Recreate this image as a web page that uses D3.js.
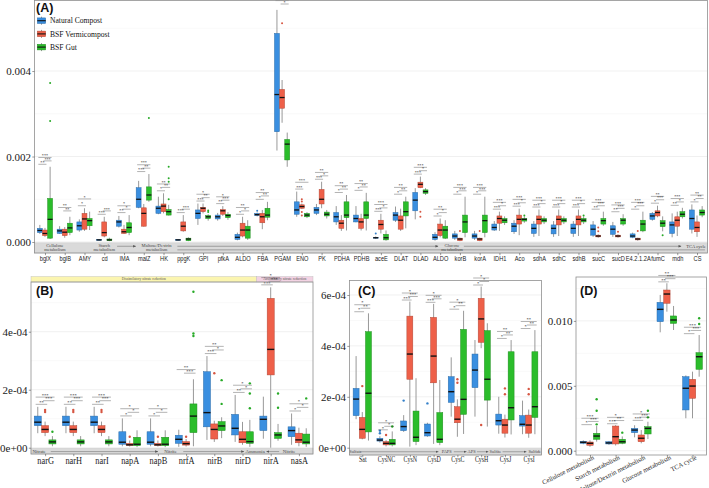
<!DOCTYPE html>
<html><head><meta charset="utf-8">
<script src="https://cdn.jsdelivr.net/npm/d3@7"></script>
<style>body{margin:0;background:#fff}svg{display:block}</style>
</head><body>
<svg id="chart" width="709" height="488"></svg>
<script>
// ---------------- DATA ----------------
const seriesNames = ["Natural Compost", "BSF Vermicompost", "BSF Gut"];
const seriesColors = ["#3A8FE0", "#EE6049", "#2BBD2B"];
// box = [lowWhisker, q1, median, q3, highWhisker, outliers]

// Panel A (values x 1e-3)
const catsA = ["bglX","bglB","AMY","cd","IMA","malZ","HK","ppgK","GPI","pfkA","ALDO","FBA","PGAM","ENO","PK","PDHA","PDHB","aceE","DLAT","DLAD","ALDO","korB","korA","IDH1","Aco","sdhA","sdhC","sdhB","sucC","sucD","E4.2.1.2A","fumC","mdh","CS"];
const A_natural = [
 [0.19,0.22,0.27,0.32,0.40],[0.19,0.20,0.26,0.30,0.37],[0.24,0.28,0.38,0.47,0.53],[0.03,0.04,0.05,0.06,0.07],
 [0.34,0.37,0.47,0.51,0.61],[0.79,0.81,1.00,1.27,1.43],[0.65,0.67,0.79,0.84,1.06],[0.03,0.04,0.05,0.06,0.07],
 [0.40,0.55,0.67,0.75,0.90],[0.50,0.54,0.59,0.63,0.68],[0.04,0.06,0.11,0.18,0.22],[0.60,0.62,0.64,0.67,0.69,[0.73]],
 [2.14,2.58,3.45,4.88,5.43],[0.59,0.65,0.75,0.94,1.18],[0.63,0.67,0.75,0.81,0.89],[0.40,0.47,0.59,0.69,0.84],
 [0.46,0.47,0.55,0.63,0.84],[0.07,0.09,0.10,0.11,0.13,[0.20]],[0.47,0.51,0.63,0.69,0.83],[0.53,0.73,0.98,1.16,1.26],
 [0.03,0.06,0.11,0.18,0.23],[0.05,0.09,0.14,0.19,0.26],[0.05,0.09,0.14,0.19,0.26],[0.26,0.28,0.34,0.42,0.49],
 [0.19,0.24,0.37,0.44,0.51],[0.12,0.20,0.32,0.42,0.49],[0.12,0.19,0.32,0.40,0.49],[0.12,0.20,0.32,0.42,0.49],
 [0.12,0.16,0.30,0.40,0.49],[0.12,0.18,0.30,0.38,0.47],[0.09,0.11,0.14,0.19,0.22],[0.50,0.53,0.61,0.67,0.70],
 [0.11,0.20,0.40,0.47,0.67],[0.20,0.30,0.55,0.75,0.88]
];
const A_vermi = [
 [0.12,0.15,0.20,0.28,0.33],[0.10,0.15,0.23,0.30,0.35],[0.26,0.30,0.54,0.67,0.79],[0.11,0.14,0.22,0.47,0.59],
 [0.19,0.20,0.24,0.30,0.40],[0.36,0.37,0.67,0.80,0.89],[0.67,0.71,0.84,0.89,1.14],[0.24,0.26,0.37,0.47,0.63],
 [0.67,0.71,0.79,0.81,0.90],[0.61,0.65,0.73,0.76,0.84],[0.11,0.14,0.28,0.44,0.59],[0.30,0.45,0.59,0.67,0.75],
 [2.79,3.13,3.38,3.57,3.79,[5.12]],[0.77,0.79,0.83,0.87,0.90,[1.0,0.95,0.70,0.62]],[0.79,0.89,1.00,1.23,1.41],[0.26,0.32,0.44,0.51,0.63],
 [0.27,0.32,0.47,0.55,0.66],[0.20,0.30,0.41,0.51,0.66],[0.26,0.30,0.51,0.61,0.78],[1.26,1.27,1.35,1.40,1.53,[0.71,0.59]],
 [0.11,0.15,0.28,0.42,0.55],[0.02,0.03,0.07,0.09,0.10,[0.26]],[0.02,0.03,0.07,0.09,0.10,[0.26]],[0.26,0.44,0.55,0.61,0.71],
 [0.16,0.42,0.53,0.63,0.78],[0.14,0.42,0.53,0.61,0.76],[0.14,0.40,0.53,0.61,0.76],[0.14,0.40,0.53,0.61,0.76],
 [0.10,0.12,0.14,0.16,0.18,[0.34,0.25]],[0.10,0.12,0.14,0.16,0.18,[0.24]],[0.03,0.05,0.07,0.09,0.10,[0.26]],[0.58,0.61,0.69,0.73,0.85],
 [0.14,0.37,0.51,0.59,0.71],[0.12,0.24,0.34,0.47,0.62]
];
const A_gut = [
 [0.07,0.09,0.53,1.02,1.76,[3.72,2.83]],[0.16,0.22,0.33,0.44,0.59],[0.28,0.38,0.50,0.55,0.71],[0.02,0.03,0.05,0.07,0.10],
 [0.16,0.22,0.34,0.45,0.63],[0.94,0.98,1.10,1.29,1.59,[2.90]],[0.62,0.63,0.71,0.76,0.87,[1.76,1.49,1.41,1.0]],[0.02,0.03,0.07,0.09,0.11],
 [0.50,0.55,0.59,0.62,0.65,[0.70,0.74]],[0.52,0.57,0.62,0.65,0.70],[0.05,0.09,0.28,0.37,0.51],[0.51,0.58,0.63,0.79,0.94],
 [1.76,1.92,2.29,2.40,2.56],[0.56,0.59,0.63,0.67,0.70],[0.55,0.61,0.65,0.70,0.75],[0.27,0.57,0.63,0.94,1.10],
 [0.27,0.55,0.63,0.94,1.15],[0.03,0.05,0.10,0.18,0.27],[0.32,0.61,0.71,0.94,1.06],[1.10,1.14,1.18,1.22,1.26],
 [0.07,0.09,0.28,0.37,0.51],[0.11,0.22,0.47,0.63,1.06],[0.11,0.22,0.50,0.63,1.06],[0.40,0.45,0.51,0.55,0.60],
 [0.45,0.49,0.53,0.55,0.60,[0.62]],[0.42,0.47,0.51,0.55,0.60],[0.42,0.47,0.51,0.55,0.60],[0.42,0.47,0.51,0.55,0.60,[0.62]],
 [0.38,0.42,0.50,0.55,0.71],[0.38,0.42,0.51,0.55,0.65],[0.23,0.26,0.42,0.51,0.71],[0.25,0.36,0.44,0.50,0.60,[0.16]],
 [0.55,0.59,0.65,0.71,0.80],[0.58,0.63,0.69,0.75,0.84]
];
// significance labels per category: [NC vs Vermi, Vermi vs Gut, NC vs Gut]
const A_sig = [
 ["**","***","***"],["","**","**"],["*","","*"],["***","***",""],["**","*","*"],["***","**","***"],["*","**","**"],["***","***",""],
 ["***","**","*"],["**","***","*"],["*","*","**"],["*","**","**"],["","*","***"],["***","","***"],["***","*","**"],["*","**","**"],
 ["*","**","**"],["***","*","***"],["*","**","**"],["***","*","***"],["*","*","**"],["*","***","***"],["*","***","***"],["***","*","***"],
 ["***","*","***"],["***","*","***"],["***","*","***"],["***","*","***"],["**","***","***"],["**","***","***"],["*","***","***"],["*","***","**"],
 ["**","*","***"],["*","**","**"]
];
const A_ticks = [0, 2, 4];
const A_tickLabels = ["0.000", "0.002", "0.004"];
const A_minor = [1, 3, 5];
const A_bandLabels = [["Cellulose\nmetabolism",0.5,"middle"],["Starch\nmetabolism",3.0,"middle"],["Maltose/Dextrin\nmetabolism",5.65,"middle"],["Glucose\nmetabolism",20.6,"middle"],["TCA cycle",33.45,"end"]];
const A_bandArrows = [[3.65,4.6,0,1],[6.7,19.9,0,1],[6.7,33.4,1,0],[21.2,32.2,0,1]];

// Panel B (values x 1e-4)
const catsB = ["narG","narH","narI","napA","napB","nrfA","nirB","nirD","nirA","nasA"];
const B_natural = [
 [0.50,0.76,0.88,1.09,1.41],[0.50,0.76,0.88,1.09,1.41],[0.50,0.76,0.88,1.09,1.41],[0.05,0.12,0.19,0.55,1.01],[0.05,0.12,0.19,0.55,1.01],
 [0.03,0.15,0.29,0.43,0.62],[0.27,0.72,1.21,2.62,3.16],[0.20,0.44,0.67,1.15,1.82],[0.31,0.59,0.98,1.09,1.76],[0.10,0.38,0.59,0.72,1.18]
];
const B_vermi = [
 [0.40,0.52,0.63,0.76,0.90,[1.30,1.23]],[0.40,0.52,0.63,0.76,0.90,[1.30,1.23]],[0.40,0.52,0.63,0.76,0.90,[1.30,1.23]],[0.04,0.08,0.10,0.15,0.25,[0.38]],[0.04,0.08,0.10,0.15,0.25,[0.38]],
 [0.04,0.09,0.14,0.21,0.30,[0.38]],[0.20,0.30,0.63,0.82,0.93,[2.57]],[0.10,0.17,0.29,0.55,0.89],[0.00,2.51,3.39,5.15,5.53],[0.05,0.17,0.27,0.50,0.69]
];
const B_gut = [
 [0.05,0.13,0.20,0.27,0.40,[0.55]],[0.05,0.13,0.20,0.27,0.40],[0.05,0.13,0.20,0.27,0.40],[0.02,0.07,0.12,0.36,0.60],[0.02,0.07,0.12,0.36,0.60],
 [0.05,0.52,1.09,1.51,2.36,[5.38,3.94,3.85]],[0.33,0.59,0.75,0.90,1.05,[2.33,1.51]],[0.03,0.15,0.21,0.55,0.96,[2.22,1.87,1.36]],[0.24,0.32,0.44,0.52,0.82,[1.87,1.38]],[0.03,0.13,0.19,0.47,0.67,[1.70]]
];
const B_sig = [["**","***","***"],["**","***","***"],["**","***","***"],["*","*","*"],["*","*","*"],["","***","**"],["***","*","**"],["**","*","*"],["***","***","*"],["*","*","*"]];
const B_ticks = [0, 2, 4];
const B_tickLabels = ["0e+00", "2e-04", "4e-04"];
const B_minor = [1, 3, 5];
const B_bandLabels = [["Nitrate",-0.45,"start"],["Nitrite",4.45,"middle"],["Ammonia",7.45,"middle"],["Nitrite",8.65,"middle"]];
const B_bandArrows = [[0.2,4.0,0,1],[4.9,7.05,0,1],[8.3,7.85,0,1]];
const B_strips = [["Dissimilatory nitrate reduction",-0.5,7.5,"#FBF5B0"],["Assimilatory nitrate reduction",7.5,9.5,"#F3D3E3"]];

// Panel C (values x 1e-4)
const catsC = ["Sat","CysNC","CysN","CysD","CysC","CysH","CysJ","CysI"];
const C_natural = [
 [1.12,1.26,1.91,2.33,3.60],[0.20,0.26,0.30,0.37,0.45,[0.67,0.57]],[0.62,0.67,0.83,1.05,1.28,[1.85]],[0.43,0.46,0.59,0.93,0.98,[1.74]],
 [1.22,1.78,2.20,2.79,3.55],[1.22,2.36,3.05,3.68,4.23],[0.55,0.89,1.06,1.32,2.00],[0.53,0.85,0.92,1.26,1.85]
];
const C_vermi = [
 [0.33,0.37,0.72,1.19,1.40,[2.42]],[0.05,0.11,0.17,0.24,0.30,[0.50]],[0.04,2.69,3.68,5.17,5.74],[0.15,2.55,3.60,5.12,5.65],
 [0.43,0.98,1.12,1.61,1.90,[2.69,2.55]],[3.91,4.14,5.06,5.87,6.33,[0.89]],[0.40,0.57,0.89,1.12,1.30,[2.33,2.10]],[0.39,0.57,0.89,1.28,1.50,[2.31,2.10]]
];
const C_gut = [
 [0.28,0.62,2.14,4.56,5.28],[0.05,0.11,0.17,0.33,0.64,[0.83]],[0.10,0.24,0.41,1.44,2.73],[0.10,0.20,0.33,1.38,2.66],
 [0.54,1.31,1.90,4.65,5.38],[0.83,1.87,2.69,4.60,4.89],[0.52,1.09,1.57,3.77,4.23],[0.53,1.19,1.61,3.77,4.62]
];
const C_sig = [["*","**","*"],["*","*","*"],["***","***","*"],["***","***","*"],["*","**","*"],["*","*","*"],["*","**","**"],["*","**","**"]];
const C_ticks = [0, 2, 4, 6];
const C_tickLabels = ["0e+00", "2e-04", "4e-04", "6e-04"];
const C_minor = [1, 3, 5];
const C_bandLabels = [["Sulfate",-0.55,"start"],["PAPS",3.55,"middle"],["APS",4.6,"middle"],["Sulfite",5.6,"middle"],["Sulfide",7.52,"end"]];
const C_bandArrows = [[-0.1,3.2,0,1],[3.85,4.38,0,1],[4.82,5.3,0,1],[5.9,6.9,0,1]];

// Panel D (values x 1e-3)
const catsD = ["Cellulose metabolism","Starch metabolism","Maltose/Dextrin metabolism","Glucose metabolism","TCA cycle"];
const D_natural = [[0.50,0.57,0.65,0.72,0.80],[0.45,0.52,0.60,0.69,0.75],[1.03,1.39,1.59,1.72,1.96],[9.12,9.94,10.89,11.43,12.0],[2.50,3.14,4.81,5.70,5.80]];
const D_vermi = [[0.30,0.42,0.57,0.67,0.80],[0.40,0.52,1.08,1.90,1.97],[0.57,0.69,0.96,1.21,1.59],[10.71,11.36,12.07,12.38,12.9],[2.50,4.04,4.98,5.50,6.09]];
const D_gut = [[0.70,0.88,1.13,1.34,1.90,[3.96,3.08,2.03]],[0.50,0.57,0.69,0.88,1.10,[1.39]],[0.90,1.29,1.72,1.85,2.23,[3.08,2.57]],[9.30,9.81,10.07,10.38,11.15],[5.70,6.27,7.24,7.55,8.91,[10.2,9.76]]];
const D_sig = [["*","***","***"],["***","**","*"],["***","***","*"],["**","***","**"],["*","***","***"]];
const D_ticks = [0, 5, 10];
const D_tickLabels = ["0.000", "0.005", "0.010"];
const D_minor = [2.5, 7.5, 12.5];

// ---------------- DRAWING ----------------
const SERIF = "'Liberation Serif','Times New Roman',serif";
const SANS = "'Liberation Sans',Arial,sans-serif";
const svg = d3.select("#chart");
svg.append("rect").attr("width",709).attr("height",488).attr("fill","#fff");
const defs = svg.append("defs");
defs.append("marker").attr("id","ah").attr("viewBox","0 0 6 6").attr("refX",5.5).attr("refY",3)
  .attr("markerUnits","userSpaceOnUse").attr("markerWidth",3).attr("markerHeight",3).attr("orient","auto")
  .append("path").attr("d","M0,0.5L6,3L0,5.5z").attr("fill","#555");

function drawPanel(c) {
  const g = svg.append("g");
  const idx = c.cats.map((d,i)=>i);
  const x = d3.scalePoint().domain(idx).range([c.x0, c.x1]).padding(c.pad);
  const y = d3.scaleLinear().domain(c.domain).range([c.y1, c.y0]);
  const step = x.step();
  const xf = v => x(0) + v*step;
  const off = 0.26*step, bw = 0.25*step;

  // grid
  g.selectAll("line.mn").data(c.minor).join("line").attr("class","mn")
    .attr("x1",c.x0).attr("x2",c.x1).attr("y1",d=>y(d)).attr("y2",d=>y(d)).attr("stroke","#f2f2f2").attr("stroke-width",0.5);
  g.selectAll("line.mj").data(c.ticks).join("line").attr("class","mj")
    .attr("x1",c.x0).attr("x2",c.x1).attr("y1",d=>y(d)).attr("y2",d=>y(d)).attr("stroke","#e6e6e6").attr("stroke-width",0.6);

  // bottom pathway band
  if (c.bandLabels) {
    const bt = y(c.bandTop);
    const bg = g.append("g");
    bg.append("rect").attr("x",c.x0).attr("y",bt).attr("width",c.x1-c.x0).attr("height",c.y1-bt)
      .attr("fill","#dadada").attr("stroke","#c4c4c4").attr("stroke-width",0.4);
    c.bandArrows.forEach(a=>{
      const yy = bt + (a[2]===0 ? c.bandRow0 : c.bandRow1);
      const ln = bg.append("line").attr("x1",xf(a[0])).attr("x2",xf(a[1])).attr("y1",yy).attr("y2",yy)
        .attr("stroke","#555").attr("stroke-width",0.45);
      if (a[3]) ln.attr("marker-end","url(#ah)");
    });
    c.bandLabels.forEach(l=>{
      const lines = l[0].split("\n");
      const t = bg.append("text").attr("text-anchor",l[2]).attr("font-family",SERIF)
        .attr("font-size",c.bandFont).attr("fill","#444");
      lines.forEach((s,k)=>{
        t.append("tspan").attr("x",xf(l[1]))
          .attr("y", lines.length>1 ? bt + c.bandFont*0.85 + k*c.bandFont*0.9 : bt + c.bandRow0 + c.bandFont*0.33)
          .text(s);
      });
      if (lines.length===1) {
        // white-ish knock-out behind single labels
      }
    });
  }

  // strips above panel
  if (c.strips) {
    c.strips.forEach(s=>{
      const xa = Math.max(c.x0, xf(s[1])), xb = Math.min(c.x1, xf(s[2]));
      g.append("rect").attr("x",xa).attr("y",c.y0-5.5).attr("width",xb-xa).attr("height",5.5)
        .attr("fill",s[3]).attr("stroke","#bbb").attr("stroke-width",0.4);
      g.append("text").attr("x",(xa+xb)/2).attr("y",c.y0-1.8).attr("text-anchor","middle")
        .attr("font-family",SERIF).attr("font-size",3.6).attr("fill","#555").text(s[0]);
    });
  }

  // boxes
  c.series.forEach((ser, s) => {
    const col = seriesColors[s];
    const gs = g.append("g");
    ser.forEach((b, i) => {
      const cx = x(i) + (s-1)*off;
      gs.append("line").attr("x1",cx).attr("x2",cx).attr("y1",y(b[0])).attr("y2",y(b[4]))
        .attr("stroke","#8d8d8d").attr("stroke-width",0.9);
      gs.append("rect").attr("x",cx-bw/2).attr("width",bw).attr("y",y(b[3]))
        .attr("height",Math.max(0.8, y(b[1])-y(b[3])))
        .attr("fill",col).attr("stroke",d3.color(col).darker(0.8)).attr("stroke-width",0.5);
      gs.append("line").attr("x1",cx-bw/2).attr("x2",cx+bw/2).attr("y1",y(b[2])).attr("y2",y(b[2]))
        .attr("stroke","#111").attr("stroke-width",c.medW);
      (b[5]||[]).forEach(o=>{
        gs.append("circle").attr("cx",cx).attr("cy",y(o)).attr("r",c.outR)
          .attr("fill",d3.color(col).darker(0.3));
      });
    });
  });

  // significance annotations
  const pairs = [[0,1],[1,2],[0,2]];
  c.sig.forEach((sg,i)=>{
    const top = d3.max(c.series, ser => ser[i][4]);
    const base = y(top) - c.sigGap;
    const xs = [0,1,2].map(s => x(i)+(s-1)*off);
    pairs.forEach(([a,b],k)=>{
      if (!sg[k]) return;
      const yy = base - k*c.sigStep;
      g.append("line").attr("x1",xs[a]-bw*0.3).attr("x2",xs[b]+bw*0.3).attr("y1",yy).attr("y2",yy)
        .attr("stroke","#222").attr("stroke-width",0.35);
      g.append("text").attr("x",(xs[a]+xs[b])/2).attr("y",yy-0.3).attr("text-anchor","middle")
        .attr("font-family",SERIF).attr("font-size",c.sigFont).attr("fill","#111").text(sg[k]);
    });
  });

  // border
  g.append("rect").attr("x",c.x0).attr("y",c.y0).attr("width",c.x1-c.x0).attr("height",c.y1-c.y0)
    .attr("fill","none").attr("stroke","#8f8f8f").attr("stroke-width",0.8);

  // y axis
  const ya = g.append("g").attr("transform",`translate(${c.x0},0)`)
    .call(d3.axisLeft(y).tickValues(c.ticks).tickFormat((d,i)=>c.tickLabels[i]).tickSize(2.2).tickPadding(1.2));
  ya.select(".domain").remove();
  ya.selectAll("line").attr("stroke","#555").attr("stroke-width",0.6);
  ya.selectAll("text").attr("font-family",SERIF).attr("font-size",11).attr("fill","#222");

  // x axis
  const xa = g.append("g").attr("transform",`translate(0,${c.y1})`)
    .call(d3.axisBottom(x).tickFormat(i=>c.cats[i]).tickSize(2.2).tickPadding(c.xPad));
  xa.select(".domain").remove();
  xa.selectAll("line").attr("stroke","#555").attr("stroke-width",0.6);
  const xt = xa.selectAll("text").attr("font-family",c.xFont).attr("font-size",c.xSize).attr("fill","#222");
  if (c.xRot) {
    xt.attr("text-anchor","end").attr("x",2).attr("y",3).attr("dy","0.35em").attr("transform",`rotate(${c.xRot})`);
  } else {
    xt.attr("transform",`scale(${c.xSx},1)`);
  }

  // tag
  g.append("text").attr("x",c.tag[1]).attr("y",c.tag[2]).attr("font-family",SANS).attr("font-weight","bold")
    .attr("font-size",12.5).attr("fill","#111").text(c.tag[0]);
  return {g, x, y};
}

const pA = drawPanel({cats:catsA, series:[A_natural,A_vermi,A_gut], sig:A_sig,
  x0:34.5, x1:707.5, y0:0.5, y1:253, domain:[-0.257,5.65], pad:0.53,
  ticks:A_ticks, tickLabels:A_tickLabels, minor:A_minor,
  bandTop:-0.02, bandLabels:A_bandLabels, bandArrows:A_bandArrows, bandFont:4.6, bandRow0:3.4, bandRow1:7.0,
  medW:1.3, outR:1.0, sigGap:2.5, sigStep:3.4, sigFont:4.2,
  xFont:SANS, xSize:6.6, xSx:0.86, xPad:1.0, tag:["(A)",36,12]});

const pB = drawPanel({cats:catsB, series:[B_natural,B_vermi,B_gut], sig:B_sig,
  x0:31, x1:313, y0:282, y1:454, domain:[-0.217,5.714], pad:0.5,
  ticks:B_ticks, tickLabels:B_tickLabels, minor:B_minor,
  bandTop:-0.02, bandLabels:B_bandLabels, bandArrows:B_bandArrows, bandFont:4.8, bandRow0:3.3, bandRow1:3.3,
  strips:B_strips,
  medW:1.4, outR:1.2, sigGap:2.5, sigStep:3.6, sigFont:4.6,
  xFont:SERIF, xSize:9.5, xSx:0.88, xPad:1.0, tag:["(B)",36,295]});

const pC = drawPanel({cats:catsC, series:[C_natural,C_vermi,C_gut], sig:C_sig,
  x0:349.5, x1:541.5, y0:280.5, y1:455, domain:[-0.287,6.57], pad:0.538,
  ticks:C_ticks, tickLabels:C_tickLabels, minor:C_minor,
  bandTop:-0.03, bandLabels:C_bandLabels, bandArrows:C_bandArrows, bandFont:4.4, bandRow0:3.3, bandRow1:3.3,
  medW:1.4, outR:1.2, sigGap:1.6, sigStep:3.5, sigFont:4.6,
  xFont:SERIF, xSize:7.6, xSx:0.78, xPad:-0.2, tag:["(C)",358,295]});

const pD = drawPanel({cats:catsD, series:[D_natural,D_vermi,D_gut], sig:D_sig,
  x0:576, x1:706.5, y0:277, y1:455, domain:[-0.331,13.382], pad:0.546,
  ticks:D_ticks, tickLabels:D_tickLabels, minor:D_minor,
  medW:1.4, outR:1.2, sigGap:1.4, sigStep:3.2, sigFont:4.6,
  xFont:SERIF, xSize:6.6, xRot:-27, xPad:1, tag:["(D)",580,295]});

// legend (inside panel A)
const lg = svg.append("g");
seriesNames.forEach((n,i)=>{
  const cy = 20.7 + i*13.2;
  const col = seriesColors[i];
  lg.append("line").attr("x1",41.5).attr("x2",41.5).attr("y1",cy-4).attr("y2",cy+4).attr("stroke","#8d8d8d").attr("stroke-width",0.9);
  lg.append("rect").attr("x",37.3).attr("y",cy-2.8).attr("width",8.4).attr("height",5.6)
    .attr("fill",col).attr("stroke",d3.color(col).darker(0.8)).attr("stroke-width",0.5);
  lg.append("line").attr("x1",37.3).attr("x2",45.7).attr("y1",cy).attr("y2",cy).attr("stroke","#111").attr("stroke-width",1.1);
  lg.append("text").attr("x",50).attr("y",cy+2.6).attr("font-family",SERIF).attr("font-size",7.6).attr("fill","#111").text(n);
});
</script>
</body></html>
